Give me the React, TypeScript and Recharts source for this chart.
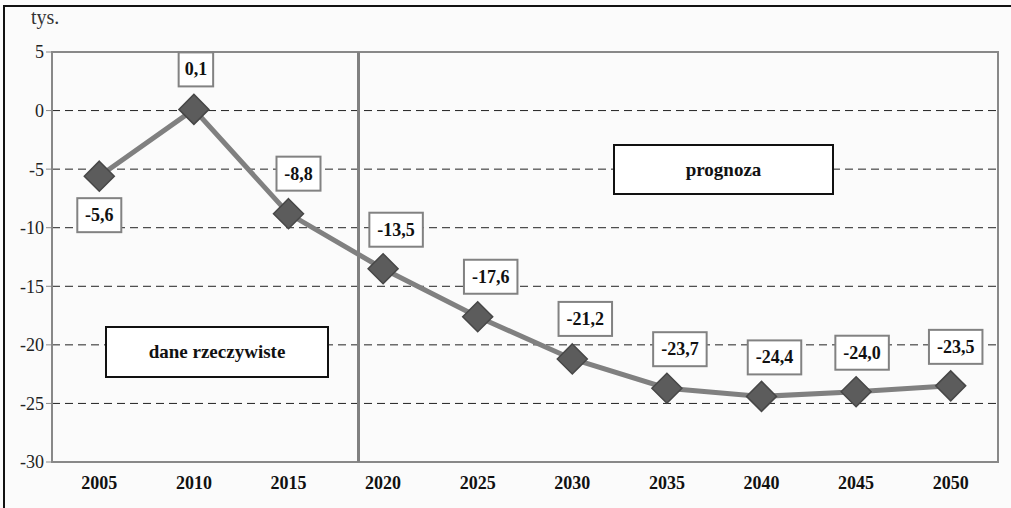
import { LineChart, Line, XAxis, YAxis, CartesianGrid, ReferenceLine, ReferenceArea, LabelList } from 'recharts'

const YEARS = [2005, 2010, 2015, 2020, 2025, 2030, 2035, 2040, 2045, 2050]
const VALUES = [-5.6, 0.1, -8.8, -13.5, -17.6, -21.2, -23.7, -24.4, -24.0, -23.5]
const Y_TICKS = [5, 0, -5, -10, -15, -20, -25, -30]
const FORECAST_FROM = 2018.7

// label box offsets from the marker (px)
const LABEL_OFFSETS: Record<number, [number, number]> = {
  2005: [0, 39], 2010: [2, -40], 2015: [10, -40], 2020: [13, -39], 2025: [13, -40],
  2030: [13, -40], 2035: [13, -39], 2040: [13, -39], 2045: [6, -39], 2050: [5, -39],
}

const data = YEARS.map((year, i) => ({ year, value: VALUES[i] }))

const SERIF = 'Liberation Serif, Tinos, Times New Roman, DejaVu Serif, serif'
const fmt = (v: number) => v.toFixed(1).replace('.', ',')

function Diamond(props: any) {
  const { cx, cy } = props
  if (cx == null || cy == null) return null
  const r = 15
  return (
    <path d={`M${cx},${cy - r} L${cx + r},${cy} L${cx},${cy + r} L${cx - r},${cy} Z`}
      fill="#5c5c5c" stroke="#474747" strokeWidth={1.5} />
  )
}

function ValueLabel(props: any) {
  const { x, y, value, index } = props
  const [dx, dy] = LABEL_OFFSETS[YEARS[index]] || [0, -40]
  const text = fmt(value)
  const w = text.length * 9.5 + 6
  const h = 34
  const cx = x + dx
  const cy = y + dy
  return (
    <g>
      <rect x={cx - w / 2} y={cy - h / 2} width={w} height={h} fill="#ffffff" stroke="#828282" strokeWidth={2} />
      <text x={cx} y={cy + 6} textAnchor="middle" style={{ fontFamily: SERIF }} fontWeight="bold" fontSize={18} fill="#111">{text}</text>
    </g>
  )
}

const boxStyle: React.CSSProperties = {
  position: 'absolute', background: '#ffffff', border: '2px solid #111', boxSizing: 'border-box',
  display: 'flex', alignItems: 'center', justifyContent: 'center',
  fontFamily: SERIF, fontWeight: 'bold', fontSize: 19, color: '#111',
}

export default function App() {
  return (
    <div style={{ position: 'absolute', left: 0, top: 0, width: 1011, height: 508, background: '#fbfbfb', overflow: 'hidden', fontFamily: SERIF }}>
      <div style={{ position: 'absolute', left: 3, top: 5, width: 1008, height: 503, borderTop: '2px solid #111', borderLeft: '2px solid #111' }} />
      <div style={{ position: 'absolute', left: 31, top: 6, fontFamily: SERIF, fontSize: 20, color: '#333' }}>tys.</div>
      <LineChart width={1011} height={508} data={data} margin={{ top: 52, right: 13, left: 12, bottom: 16 }}
        style={{ position: 'absolute', left: 0, top: 0, fontFamily: SERIF }}>
        <CartesianGrid vertical={false} stroke="#222" strokeDasharray="8 5" horizontalValues={[0, -5, -10, -15, -20, -25]} />
        <ReferenceArea x1={2002.5} x2={2052.5} y1={-30} y2={5} fill="none" stroke="#888" strokeWidth={2} ifOverflow="visible" />
        <XAxis dataKey="year" type="number" domain={[2002.5, 2052.5]} ticks={YEARS} height={30}
          axisLine={false} tickLine={false} interval={0}
          tick={{ fontFamily: SERIF, fontWeight: 'bold', fontSize: 18, fill: '#111', dy: 6 }} />
        <YAxis type="number" domain={[-30, 5]} ticks={Y_TICKS} width={40} interval={0}
          axisLine={{ stroke: '#888', strokeWidth: 2 }} tickLine={{ stroke: '#888' }} tickSize={6}
          tick={{ fontFamily: SERIF, fontSize: 18, fill: '#222' }} />
        <ReferenceLine x={FORECAST_FROM} stroke="#808080" strokeWidth={3} />
        <Line dataKey="value" stroke="#808080" strokeWidth={5} dot={<Diamond />} isAnimationActive={false}>
          <LabelList dataKey="value" content={<ValueLabel />} />
        </Line>
      </LineChart>
      <div style={{ ...boxStyle, left: 613, top: 144, width: 221, height: 51 }}>prognoza</div>
      <div style={{ ...boxStyle, left: 105, top: 326, width: 224, height: 52 }}>dane rzeczywiste</div>
    </div>
  )
}
